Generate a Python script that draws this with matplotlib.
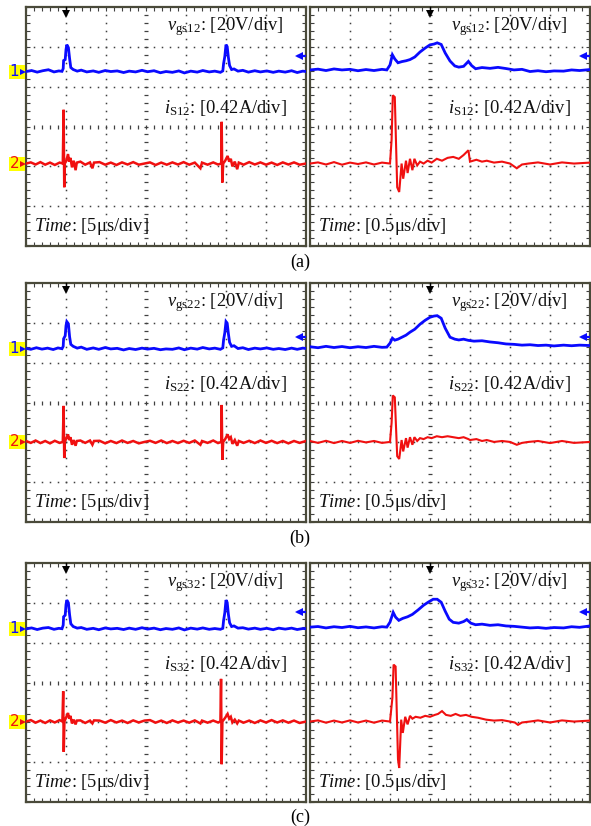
import numpy as np
import matplotlib.pyplot as plt

plt.rcParams['font.family'] = ['Liberation Serif', 'DejaVu Serif']
plt.rcParams['mathtext.fontset'] = 'custom'
plt.rcParams['mathtext.rm'] = 'Liberation Serif'
plt.rcParams['mathtext.it'] = 'Liberation Serif:italic'

# Scope settings
VGS_DIV = 20.0      # V/div
IS_DIV = 0.42       # A/div
SLOW_DIV = 5.0      # us/div
FAST_DIV = 0.5      # us/div

rows = ['a', 'b', 'c']
vgs_names = ['gs12', 'gs22', 'gs32']
is_names = ['S12', 'S22', 'S32']

# ---- gate voltage, 5 us/div (time in us, value in V)
vgs_slow_a = [(-5.0, 0.0), (-4.3, 0.5), (-3.6, -0.3), (-2.9, 0.4), (-2.2, 0.9), (-1.5, -0.2),
              (-0.9, 0.3), (-0.5, 0.1), (-0.35, 1.5), (-0.3, 5.5), (-0.1, 6.0), (0.0, 11.0),
              (0.1, 13.5), (0.3, 12.0), (0.45, 6.5), (0.6, 2.0), (0.9, 1.0), (1.4, 0.2),
              (1.9, 0.7), (2.6, -0.2), (3.4, 0.3), (4.1, -0.4), (4.9, 0.5), (5.6, 0.0),
              (6.4, 0.3), (7.2, -0.5), (7.9, 0.2), (8.7, -0.2), (9.5, 0.6), (10.2, -0.1),
              (11.0, 0.4), (11.8, -0.6), (12.5, 0.0), (13.3, -0.4), (14.1, 0.3), (14.8, -0.7),
              (15.6, 0.2), (16.4, -0.3), (17.1, 0.5), (17.9, -0.2), (18.6, 0.2), (19.3, -0.4),
              (19.6, 0.3), (19.7, 4.0), (19.85, 7.5), (20.0, 13.5), (20.15, 12.5), (20.3, 7.0),
              (20.45, 3.0), (20.7, 1.0), (21.0, 1.3), (21.5, 0.2), (22.1, 0.6), (22.8, -0.3),
              (23.6, 0.4), (24.3, -0.2), (25.1, 0.3), (25.9, -0.4), (26.6, 0.2), (27.4, -0.3),
              (28.2, 0.4), (28.9, -0.5), (29.6, 0.2), (30.0, 0.0)]
vgs_slow_b = [(-5.0, 0.2), (-4.4, -0.3), (-3.7, 0.5), (-3.0, -0.2), (-2.3, 0.3), (-1.6, -0.4),
              (-1.0, 0.4), (-0.5, 0.0), (-0.35, 1.2), (-0.3, 5.0), (-0.1, 6.5), (0.0, 11.5),
              (0.1, 13.6), (0.3, 12.5), (0.45, 6.0), (0.6, 2.2), (0.9, 1.2), (1.4, 0.3),
              (1.9, 0.8), (2.6, -0.3), (3.4, 0.4), (4.1, -0.3), (4.9, 0.6), (5.6, -0.1),
              (6.4, 0.2), (7.2, -0.6), (7.9, 0.1), (8.7, -0.4), (9.5, 0.3), (10.2, -0.2),
              (11.0, 0.2), (11.8, -0.5), (12.5, -0.1), (13.3, -0.3), (14.1, 0.4), (14.8, -0.5),
              (15.6, 0.3), (16.4, -0.2), (17.1, 0.6), (17.9, -0.1), (18.6, 0.3), (19.3, -0.3),
              (19.6, 0.4), (19.7, 4.5), (19.85, 8.0), (20.0, 13.6), (20.15, 12.8), (20.3, 7.5),
              (20.45, 3.2), (20.7, 1.2), (21.0, 1.5), (21.5, 0.1), (22.1, 0.5), (22.8, -0.4),
              (23.6, 0.3), (24.3, -0.1), (25.1, 0.4), (25.9, -0.3), (26.6, 0.1), (27.4, -0.4),
              (28.2, 0.3), (28.9, -0.3), (29.6, 0.3), (30.0, 0.1)]
vgs_slow_c = [(-5.0, -0.1), (-4.3, 0.4), (-3.6, -0.4), (-2.9, 0.3), (-2.2, 0.6), (-1.5, -0.3),
              (-0.9, 0.2), (-0.5, 0.0), (-0.35, 1.8), (-0.3, 6.0), (-0.1, 6.8), (0.0, 12.0),
              (0.1, 14.4), (0.3, 13.0), (0.45, 7.0), (0.6, 2.5), (0.9, 1.1), (1.4, 0.3),
              (1.9, 0.6), (2.6, -0.3), (3.4, 0.2), (4.1, -0.5), (4.9, 0.4), (5.6, -0.1),
              (6.4, 0.2), (7.2, -0.4), (7.9, 0.3), (8.7, -0.3), (9.5, 0.5), (10.2, -0.2),
              (11.0, 0.3), (11.8, -0.5), (12.5, 0.1), (13.3, -0.3), (14.1, 0.4), (14.8, -0.6),
              (15.6, 0.3), (16.4, -0.2), (17.1, 0.4), (17.9, -0.3), (18.6, 0.1), (19.3, -0.3),
              (19.6, 0.2), (19.7, 4.2), (19.85, 8.0), (20.0, 14.4), (20.15, 13.2), (20.3, 7.2),
              (20.45, 3.0), (20.7, 1.1), (21.0, 1.4), (21.5, 0.3), (22.1, 0.5), (22.8, -0.2),
              (23.6, 0.3), (24.3, -0.3), (25.1, 0.2), (25.9, -0.5), (26.6, 0.3), (27.4, -0.2),
              (28.2, 0.3), (28.9, -0.4), (29.6, 0.1), (30.0, 0.0)]

# ---- switch current, 5 us/div (time in us, value in A)
is_slow_a = [(-5.0, 0.0), (-4.4, 0.012), (-3.8, -0.01), (-3.2, 0.015), (-2.6, -0.012), (-2.0, 0.01),
             (-1.4, -0.015), (-0.8, 0.01), (-0.4, 0.0), (-0.3, 0.567), (-0.22, -0.25), (-0.15, 0.0),
             (0.05, 0.03), (0.25, 0.10), (0.4, 0.02), (0.55, 0.06), (0.75, -0.04), (0.95, 0.03),
             (1.2, -0.07), (1.35, 0.01), (1.8, 0.02), (2.4, -0.012), (3.0, 0.012), (3.3, -0.05),
             (3.5, 0.01), (4.2, 0.015), (4.9, -0.012), (5.6, 0.01), (6.3, -0.015), (7.0, 0.012),
             (7.7, -0.01), (8.4, 0.015), (9.1, -0.012), (9.8, 0.0), (10.5, 0.012), (11.2, -0.015),
             (11.9, 0.01), (12.6, -0.012), (13.3, 0.012), (14.0, -0.01), (14.7, 0.015), (15.4, -0.012),
             (16.1, 0.01), (16.8, -0.05), (17.0, 0.01), (17.7, -0.012), (18.4, 0.012), (19.0, -0.01),
             (19.4, 0.0), (19.46, 0.44), (19.54, -0.20), (19.65, 0.0), (19.9, 0.03), (20.2, 0.08),
             (20.4, 0.02), (20.6, 0.05), (20.8, -0.03), (21.1, 0.02), (21.4, -0.06), (21.6, 0.01),
             (22.2, -0.012), (22.9, 0.015), (23.6, -0.01), (24.3, 0.012), (25.0, -0.012), (25.7, 0.01),
             (26.4, -0.015), (27.1, 0.012), (27.8, -0.01), (28.5, 0.012), (29.2, -0.012), (30.0, 0.0)]
is_slow_b = [(-5.0, 0.01), (-4.4, -0.01), (-3.8, 0.015), (-3.2, -0.012), (-2.6, 0.01), (-2.0, -0.015),
             (-1.4, 0.012), (-0.8, -0.01), (-0.4, 0.0), (-0.3, 0.38), (-0.22, -0.17), (-0.15, 0.0),
             (0.05, 0.04), (0.25, 0.08), (0.4, 0.02), (0.55, 0.05), (0.75, -0.03), (0.95, 0.02),
             (1.2, -0.04), (1.35, 0.01), (1.8, 0.015), (2.4, -0.01), (3.0, 0.015), (3.3, -0.03),
             (3.5, 0.01), (4.2, 0.012), (4.9, -0.015), (5.6, 0.01), (6.3, -0.012), (7.0, 0.015),
             (7.7, -0.01), (8.4, 0.01), (9.1, -0.015), (9.8, 0.0), (10.5, 0.012), (11.2, -0.01),
             (11.9, 0.015), (12.6, -0.012), (13.3, 0.01), (14.0, -0.012), (14.7, 0.012), (15.4, -0.01),
             (16.1, 0.015), (16.8, -0.03), (17.0, 0.01), (17.7, -0.01), (18.4, 0.015), (19.0, -0.012),
             (19.4, 0.0), (19.46, 0.39), (19.54, -0.19), (19.65, 0.0), (19.9, 0.03), (20.2, 0.08),
             (20.4, 0.03), (20.6, 0.05), (20.8, -0.02), (21.1, 0.02), (21.4, -0.04), (21.6, 0.01),
             (22.2, -0.01), (22.9, 0.012), (23.6, -0.012), (24.3, 0.015), (25.0, -0.01), (25.7, 0.012),
             (26.4, -0.012), (27.1, 0.01), (27.8, -0.015), (28.5, 0.01), (29.2, -0.01), (30.0, 0.01)]
is_slow_c = [(-5.0, 0.0), (-4.4, 0.015), (-3.8, -0.012), (-3.2, 0.01), (-2.6, -0.015), (-2.0, 0.012),
             (-1.4, -0.01), (-0.8, 0.015), (-0.45, 0.0), (-0.35, 0.32), (-0.28, -0.32), (-0.2, 0.0),
             (0.05, 0.05), (0.25, 0.09), (0.4, 0.03), (0.55, 0.06), (0.75, -0.02), (0.95, 0.02),
             (1.2, -0.03), (1.35, 0.01), (1.8, 0.012), (2.4, -0.015), (3.0, 0.01), (3.3, -0.02),
             (3.5, 0.012), (4.2, 0.01), (4.9, -0.012), (5.6, 0.015), (6.3, -0.01), (7.0, 0.01),
             (7.7, -0.015), (8.4, 0.012), (9.1, -0.01), (9.8, 0.01), (10.5, 0.015), (11.2, -0.012),
             (11.9, 0.01), (12.6, -0.015), (13.3, 0.012), (14.0, -0.01), (14.7, 0.01), (15.4, -0.012),
             (16.1, 0.012), (16.8, -0.02), (17.0, 0.01), (17.7, -0.012), (18.4, 0.01), (19.0, -0.01),
             (19.3, 0.0), (19.38, 0.45), (19.46, -0.45), (19.55, 0.0), (19.9, 0.04), (20.2, 0.08),
             (20.4, 0.03), (20.6, 0.05), (20.8, -0.01), (21.1, 0.02), (21.4, -0.02), (21.6, 0.01),
             (22.2, -0.012), (22.9, 0.01), (23.6, -0.015), (24.3, 0.012), (25.0, -0.01), (25.7, 0.015),
             (26.4, -0.01), (27.1, 0.012), (27.8, -0.012), (28.5, 0.01), (29.2, -0.015), (30.0, 0.0)]

# ---- gate voltage, 0.5 us/div
vgs_fast_a = [(-1.5, 0.0), (-1.4, 0.4), (-1.3, -0.3), (-1.2, 0.5), (-1.1, 0.0), (-1.0, 0.3),
              (-0.9, -0.4), (-0.8, 0.2), (-0.7, -0.3), (-0.6, 0.3), (-0.54, 0.0), (-0.5, 2.5),
              (-0.47, 7.6), (-0.44, 5.5), (-0.4, 3.6), (-0.35, 4.2), (-0.3, 4.6), (-0.25, 5.2),
              (-0.19, 6.5), (-0.125, 9.0), (-0.06, 11.0), (0.0, 12.6), (0.05, 13.0), (0.09, 13.6),
              (0.14, 12.8), (0.19, 8.5), (0.25, 4.5), (0.31, 2.0), (0.36, 1.4), (0.42, 1.8),
              (0.48, 4.3), (0.52, 2.2), (0.57, 0.6), (0.65, 1.2), (0.75, 0.8), (0.85, 1.3),
              (0.95, 0.7), (1.05, 0.0), (1.15, 0.3), (1.25, -0.8), (1.35, -0.4), (1.45, -0.9),
              (1.55, -0.5), (1.67, -0.6), (1.77, 0.0), (1.87, -0.3), (2.0, 0.2)]
vgs_fast_b = [(-1.5, 0.2), (-1.4, -0.3), (-1.3, 0.4), (-1.2, -0.2), (-1.1, 0.3), (-1.0, -0.3),
              (-0.9, 0.2), (-0.8, -0.2), (-0.7, 0.4), (-0.6, -0.1), (-0.54, 0.0), (-0.5, 2.0),
              (-0.47, 4.5), (-0.44, 3.5), (-0.4, 4.0), (-0.35, 5.0), (-0.3, 6.0), (-0.25, 7.5),
              (-0.19, 9.0), (-0.125, 11.5), (-0.06, 13.5), (0.0, 15.0), (0.05, 15.6), (0.09, 15.8),
              (0.14, 14.5), (0.19, 9.5), (0.25, 5.0), (0.31, 4.0), (0.36, 3.6), (0.42, 4.0),
              (0.48, 3.4), (0.55, 3.0), (0.65, 3.2), (0.75, 2.6), (0.85, 2.2), (0.95, 1.6),
              (1.05, 1.4), (1.15, 1.0), (1.25, 1.2), (1.35, 0.8), (1.45, 1.0), (1.55, 0.6),
              (1.67, 1.0), (1.77, 0.7), (1.87, 1.0), (2.0, 0.8)]
vgs_fast_c = [(-1.5, 0.0), (-1.4, 0.3), (-1.3, -0.4), (-1.2, 0.2), (-1.1, -0.2), (-1.0, 0.4),
              (-0.9, -0.3), (-0.8, 0.1), (-0.7, -0.4), (-0.6, 0.2), (-0.54, 0.0), (-0.5, 2.5),
              (-0.46, 7.4), (-0.43, 5.0), (-0.39, 3.4), (-0.34, 4.4), (-0.28, 5.2), (-0.22, 6.4),
              (-0.15, 8.6), (-0.08, 11.0), (-0.02, 12.6), (0.04, 14.0), (0.09, 14.0), (0.14, 12.5),
              (0.19, 8.0), (0.24, 4.0), (0.29, 2.4), (0.36, 2.0), (0.42, 2.8), (0.46, 3.8),
              (0.51, 2.0), (0.57, 1.2), (0.65, 1.5), (0.75, 0.9), (0.85, 1.2), (0.95, 0.6),
              (1.05, 0.4), (1.15, 0.0), (1.25, -0.4), (1.35, -0.2), (1.45, -0.6), (1.55, -0.2),
              (1.67, -0.4), (1.77, 0.2), (1.87, -0.1), (2.0, 0.6)]

# ---- switch current, 0.5 us/div
is_fast_a = [(-1.5, 0.0), (-1.4, 0.012), (-1.3, -0.01), (-1.2, 0.015), (-1.1, -0.012), (-1.0, 0.01),
             (-0.9, -0.005), (-0.8, 0.012), (-0.7, -0.01), (-0.6, 0.01), (-0.5, 0.0), (-0.48, 0.25),
             (-0.465, 0.72), (-0.44, 0.70), (-0.41, -0.25), (-0.385, -0.30), (-0.355, 0.0),
             (-0.335, -0.16), (-0.3, 0.03), (-0.28, -0.10), (-0.25, 0.05), (-0.22, -0.07),
             (-0.195, 0.05), (-0.16, -0.02), (-0.125, 0.02), (-0.08, 0.0), (-0.03, 0.03),
             (0.02, 0.01), (0.085, 0.05), (0.15, 0.03), (0.22, 0.06), (0.29, 0.07), (0.36, 0.05),
             (0.42, 0.09), (0.48, 0.14), (0.5, 0.02), (0.58, 0.04), (0.65, 0.02), (0.71, 0.03),
             (0.8, 0.01), (0.9, 0.02), (1.0, 0.0), (1.085, -0.05), (1.15, -0.01), (1.23, 0.0),
             (1.35, 0.012), (1.5, -0.01), (1.65, 0.012), (1.8, 0.0), (2.0, 0.01)]
is_fast_b = [(-1.5, 0.01), (-1.4, -0.01), (-1.3, 0.012), (-1.2, -0.012), (-1.1, 0.01), (-1.0, -0.01),
             (-0.9, 0.012), (-0.8, -0.005), (-0.7, 0.01), (-0.6, -0.01), (-0.5, 0.0), (-0.48, 0.20),
             (-0.465, 0.49), (-0.44, 0.47), (-0.41, -0.15), (-0.385, -0.18), (-0.355, 0.02),
             (-0.335, -0.10), (-0.3, 0.04), (-0.28, -0.06), (-0.25, 0.05), (-0.22, -0.03),
             (-0.195, 0.05), (-0.16, 0.01), (-0.125, 0.04), (-0.08, 0.03), (-0.03, 0.05),
             (0.02, 0.04), (0.085, 0.06), (0.15, 0.05), (0.22, 0.06), (0.29, 0.05), (0.36, 0.04),
             (0.42, 0.05), (0.48, 0.03), (0.5, 0.02), (0.58, 0.03), (0.65, 0.01), (0.71, 0.02),
             (0.8, 0.0), (0.9, 0.01), (1.0, 0.0), (1.085, -0.03), (1.15, -0.01), (1.23, 0.0),
             (1.35, 0.01), (1.5, -0.012), (1.65, 0.01), (1.8, -0.01), (2.0, 0.0)]
is_fast_c = [(-1.5, 0.0), (-1.4, 0.012), (-1.3, -0.012), (-1.2, 0.01), (-1.1, -0.01), (-1.0, 0.012),
             (-0.9, -0.01), (-0.8, 0.01), (-0.7, -0.012), (-0.6, 0.01), (-0.5, 0.0), (-0.47, 0.25),
             (-0.455, 0.60), (-0.43, 0.58), (-0.40, -0.40), (-0.385, -0.49), (-0.36, 0.02),
             (-0.34, -0.12), (-0.31, 0.05), (-0.28, -0.03), (-0.25, 0.06), (-0.22, 0.03),
             (-0.18, 0.05), (-0.12, 0.04), (-0.06, 0.06), (0.0, 0.05), (0.06, 0.07),
             (0.1, 0.08), (0.15, 0.11), (0.2, 0.07), (0.26, 0.06), (0.32, 0.08), (0.38, 0.06),
             (0.45, 0.07), (0.52, 0.05), (0.6, 0.04), (0.7, 0.02), (0.8, 0.01), (0.9, 0.015),
             (1.0, 0.0), (1.06, -0.01), (1.1, -0.035), (1.15, -0.01), (1.25, 0.0), (1.35, 0.012),
             (1.5, -0.01), (1.65, 0.012), (1.8, 0.0), (2.0, 0.01)]

vgs_slow = [vgs_slow_a, vgs_slow_b, vgs_slow_c]
is_slow = [is_slow_a, is_slow_b, is_slow_c]
vgs_fast = [vgs_fast_a, vgs_fast_b, vgs_fast_c]
is_fast = [is_fast_a, is_fast_b, is_fast_c]

# channel offsets on screen (div) and the blue reference arrow height
ch1_pos = [1.38, 1.35, 1.35]
ch2_pos = [-0.93, -0.99, -0.98]
arrow_pos = [1.78, 1.65, 1.78]

BLUE = '#0a0aff'
RED = '#f01010'
GRID = '#404040'
FRAME = '#4a4a3a'

W, H = 591, 826
fig = plt.figure(figsize=(W / 100, H / 100), dpi=100)


def add_panel(x0, top, w=280, h=239):
    ax = fig.add_axes([x0 / W, 1 - (top + h) / H, w / W, h / H])
    ax.set_xlim(0, 7)
    ax.set_ylim(-3, 3)
    ax.set_xticks(np.arange(0, 7.01, 0.2))
    ax.set_yticks(np.arange(-3, 3.01, 0.2))
    ax.tick_params(which='both', direction='in', length=3.2, width=0.8, color=GRID,
                   top=True, right=True, labelbottom=False, labelleft=False)
    for s in ax.spines.values():
        s.set_color(FRAME)
        s.set_linewidth(1.6)
    # dotted graticule
    ys = np.arange(-3, 3.01, 0.2)
    xs = np.arange(0, 7.01, 0.2)
    for gx in [1, 2, 4, 5, 6]:
        ax.plot(np.full_like(ys, gx), ys, ls='none', marker='s', ms=1.1, mew=0, color=GRID)
    for gy in [-2, -1, 1, 2]:
        ax.plot(xs, np.full_like(xs, gy), ls='none', marker='s', ms=1.1, mew=0, color=GRID)
    # centre cross with minor marks
    ax.plot(np.full_like(ys, 3), ys, ls='none', marker='_', ms=3.2, mew=0.9, color=GRID)
    ax.plot(xs, np.zeros_like(xs), ls='none', marker='|', ms=3.2, mew=0.9, color=GRID)
    return ax


def draw_trace(ax, pairs, tdiv, trig, vdiv, pos, color, lw):
    d = np.array(pairs)
    ax.plot(d[:, 0] / tdiv + trig, d[:, 1] / vdiv + pos, color=color, lw=lw,
            solid_joinstyle='miter', zorder=5)


def trigger_mark(ax, x):
    ax.plot([x, x], [3, 2.85], color='k', lw=1.0, clip_on=False, zorder=6)
    ax.plot(x, 2.82, marker='v', ms=5.5, color='k', mew=0, zorder=6)


def ref_arrow(ax, y):
    ax.plot([6.8, 7.0], [y, y], color=BLUE, lw=1.6, zorder=6)
    ax.plot(6.82, y, marker='<', ms=6, color=BLUE, mew=0, zorder=6)


def ground_mark(ax, y, label, color):
    tr = ax.get_yaxis_transform()
    # yellow tag left of the frame, 16 px wide, 14 px tall
    ax.add_patch(plt.Rectangle((-17 / 280, y - 0.175), 16 / 280, 0.35, fc='#ffff00', ec='none',
                               transform=tr, clip_on=False, zorder=6))
    ax.text(-11.5 / 280, y, label, transform=tr, ha='center', va='center', color=color,
            fontsize=11, fontfamily='DejaVu Sans', zorder=7)
    ax.plot(-3.5 / 280, y, marker='>', ms=4.5, color=color, mew=0, clip_on=False,
            transform=tr, zorder=7)


row_tops = [7, 283, 563]
caption_y = [262, 538, 817]
fs = 13.3

for r in range(3):
    top = row_tops[r]
    axl = add_panel(26, top)
    axr = add_panel(310, top)

    # left: 5 us/div, trigger one division in
    draw_trace(axl, vgs_slow[r], SLOW_DIV, 1, VGS_DIV, ch1_pos[r], BLUE, 2.0)
    draw_trace(axl, is_slow[r], SLOW_DIV, 1, IS_DIV, ch2_pos[r], RED, 1.8)
    # right: 0.5 us/div, trigger at the centre
    draw_trace(axr, vgs_fast[r], FAST_DIV, 3, VGS_DIV, ch1_pos[r] + 0.04, BLUE, 2.0)
    draw_trace(axr, is_fast[r], FAST_DIV, 3, IS_DIV, ch2_pos[r], RED, 1.5)

    trigger_mark(axl, 1)
    trigger_mark(axr, 3)
    ref_arrow(axl, arrow_pos[r])
    ref_arrow(axr, arrow_pos[r])
    ground_mark(axl, ch1_pos[r], '1', BLUE)
    ground_mark(axl, ch2_pos[r], '2', RED)

    for ax, tb in [(axl, '5'), (axr, '0.5')]:
        ax.text(6.43, 2.5, r'$v_{\mathrm{%s}}$: [20V/div]' % vgs_names[r], ha='right',
                va='center', fontsize=fs, color='#111111', zorder=8)
        ax.text(6.52, 0.47, r'$i_{\mathrm{%s}}$: [0.42A/div]' % is_names[r], ha='right',
                va='center', fontsize=fs, color='#111111', zorder=8)
        ax.text(0.2, -2.5, r'$Time$: [%sμs/div]' % tb, ha='left', va='center',
                fontsize=fs, color='#111111', zorder=8)

    fig.text(300 / W, 1 - caption_y[r] / H, '(%s)' % rows[r], ha='center', va='center',
             fontsize=13)

fig.savefig('out.png', dpi=100)
